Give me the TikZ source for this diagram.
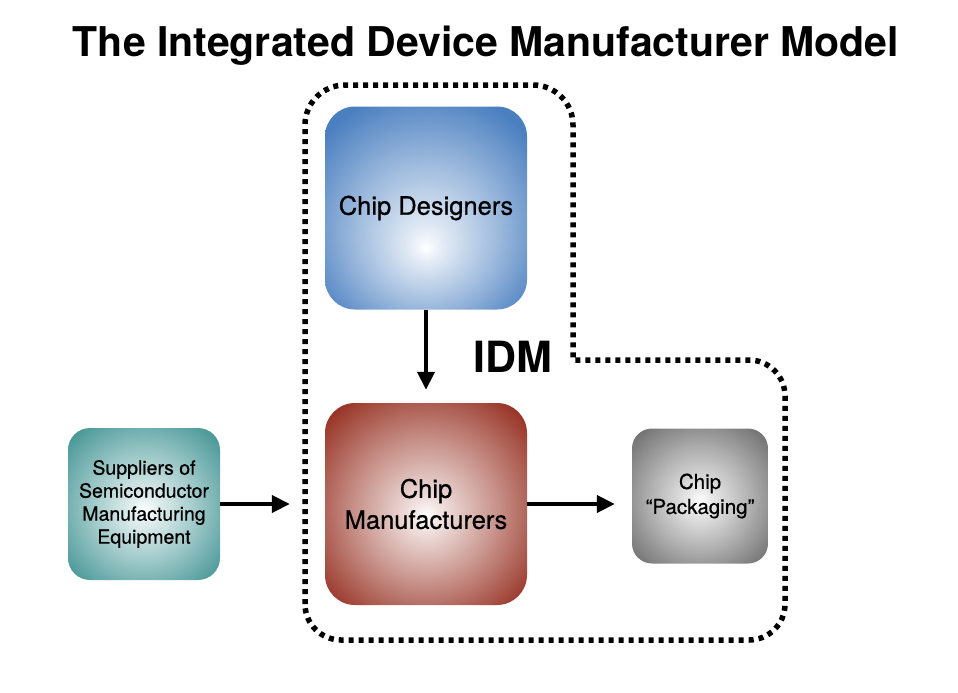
\documentclass[tikz,border=0pt]{standalone}
\usepackage{fontspec}
\setmainfont{TeX Gyre Heros}
\newfontfamily\medfont[FakeBold=0.6,Ligatures=TeX]{TeX Gyre Heros}
\usepackage{tikz}
\usetikzlibrary{arrows.meta,positioning,calc}
\definecolor{designblue}{HTML}{4A7FC0}
\definecolor{fabred}{HTML}{983426}
\definecolor{suppteal}{HTML}{4A9898}
\definecolor{packgray}{HTML}{737373}
\pgfdeclareradialshading{blueglow}{\pgfpoint{0bp}{-10bp}}{color(0bp)=(white); color(4bp)=(white!85!designblue); color(18bp)=(white!45!designblue); color(33bp)=(designblue); color(50bp)=(designblue)}
\pgfdeclareradialshading{redglow}{\pgfpoint{0bp}{-3bp}}{color(0bp)=(white); color(4bp)=(white!85!fabred); color(18bp)=(white!45!fabred); color(33bp)=(fabred); color(50bp)=(fabred)}
\pgfdeclareradialshading{tealglow}{\pgfpoint{0bp}{-2bp}}{color(0bp)=(white); color(4bp)=(white!85!suppteal); color(18bp)=(white!45!suppteal); color(33bp)=(suppteal); color(50bp)=(suppteal)}
\pgfdeclareradialshading{grayglow}{\pgfpoint{0bp}{-2bp}}{color(0bp)=(white); color(4bp)=(white!85!packgray); color(18bp)=(white!45!packgray); color(33bp)=(packgray); color(50bp)=(packgray)}
\tikzset{
  block/.style={rectangle, rounded corners=30pt, align=center, inner sep=0pt},
  flow/.style={-{Triangle[length=18pt,width=17pt]}, line width=4pt},
  idmline/.style={line width=5.5pt, dash pattern=on 5pt off 5pt}
}

\begin{document}
\begin{tikzpicture}[x=1pt,y=-1pt]
  \useasboundingbox (0,0) rectangle (958,693);
  % title
  \node[font=\fontsize{41}{44}\selectfont\bfseries] (title) at (486,46) {The Integrated Device Manufacturer Model};
  % boxes
  \node[block, shading=blueglow, minimum width=202pt, minimum height=203pt,
        font=\medfont\fontsize{25.5}{30}\selectfont] (designers) at (426,208) {Chip Designers};
  \node[block, shading=redglow, minimum width=202pt, minimum height=202pt,
        font=\medfont\fontsize{25.5}{31}\selectfont] (makers) at (426,504) {Chip\\Manufacturers};
  \node[block, shading=tealglow, minimum width=152pt, minimum height=152pt, rounded corners=22pt,
        font=\medfont\fontsize{19.5}{23}\selectfont] (suppliers) at (144,504) {Suppliers of\\Semiconductor\\Manufacturing\\Equipment};
  \node[block, shading=grayglow, minimum width=136pt, minimum height=135pt, rounded corners=20pt,
        font=\medfont\fontsize{20.5}{25}\selectfont] (packaging) at (700,496) {Chip\\“Packaging”};
  % IDM boundary
  \draw[idmline, rounded corners=40pt] (305,640) -- (305,85) -- (573,85) [sharp corners] -- (573,360)
    [rounded corners=36pt] -- (785,360) -- (785,640) -- cycle;
  \node[font=\fontsize{43}{45}\selectfont\bfseries] (idm) at (513,357) {IDM};
  % arrows
  \draw[flow, shorten >=13pt] (designers.south) -- (makers.north);
  \draw[flow, shorten >=35pt] (suppliers.east) -- (makers.west);
  \draw[flow, shorten >=17pt] (makers.east) -- (makers.east -| packaging.west);
\end{tikzpicture}
\end{document}
